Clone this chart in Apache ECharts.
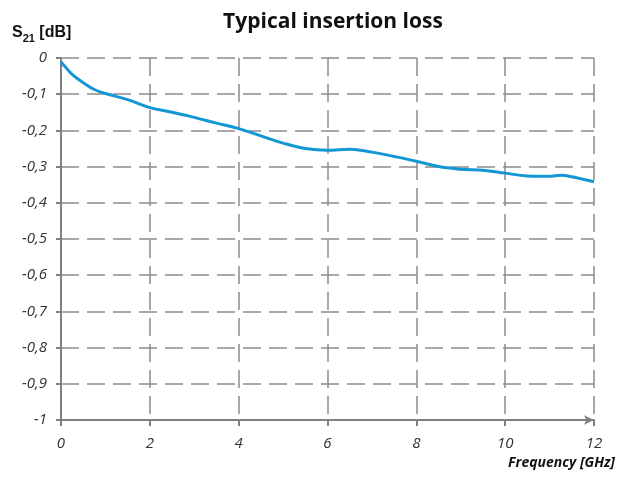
<!DOCTYPE html>
<html>
<head>
<meta charset="utf-8">
<script src="https://cdn.jsdelivr.net/npm/echarts@6/dist/echarts.min.js"></script>
<style>
  html, body { margin: 0; padding: 0; background: #fff; }
  #chart { width: 623px; height: 477px; }
</style>
</head>
<body>
<div id="chart"></div>
<script>
// frequency in GHz
const freq = [0, 0.1, 0.25, 0.5, 0.75, 1, 1.5, 2, 2.5, 3, 3.5, 4, 4.5, 5, 5.5, 6, 6.5, 7, 7.5, 8, 8.5, 9, 9.5, 10, 10.5, 11, 11.25, 11.5, 12]
// S21 in dB
const loss = [-0.011, -0.025, -0.045, -0.068, -0.087, -0.098, -0.115, -0.137, -0.150, -0.164, -0.180, -0.195, -0.215, -0.235, -0.250, -0.255, -0.252, -0.260, -0.272, -0.285, -0.300, -0.307, -0.310, -0.318, -0.326, -0.327, -0.324, -0.328, -0.342]

const xTicks = [0, 2, 4, 6, 8, 10, 12]

const chart = echarts.init(document.getElementById('chart'))

const gridLine = { color: '#8c8c8c', width: 1.5, type: [18, 8] }
const labelStyle = {
  fontFamily: 'Open Sans',
  fontStyle: 'italic',
  fontSize: 15,
  color: '#333'
}

const option = {
  animation: false,
  title: {
    text: 'Typical insertion loss',
    left: 328,
    textAlign: 'center',
    top: 7,
    textStyle: { fontFamily: 'Open Sans', fontWeight: 'bold', fontSize: 21, color: '#111' }
  },
  grid: { left: 61, right: 29, top: 58, bottom: 57 },
  xAxis: {
    type: 'value',
    min: 0,
    max: 12,
    interval: 2,
    axisLine: { onZero: false, lineStyle: { color: '#808080', width: 2 }, symbol: ['none', 'arrow'], symbolSize: [7, 10] },
    axisTick: { show: true, length: 6, inside: false, lineStyle: { color: '#808080', width: 2 } },
    axisLabel: Object.assign({ margin: 16, formatter: v => xTicks.includes(v) ? String(v) : '' }, labelStyle),
    splitLine: { show: true, lineStyle: gridLine }
  },
  yAxis: {
    type: 'value',
    min: -1,
    max: 0,
    interval: 0.1,
    axisLine: { show: true, onZero: false, lineStyle: { color: '#808080', width: 2 } },
    axisTick: { show: true, length: 5, lineStyle: { color: '#808080', width: 2 } },
    axisLabel: Object.assign({
      margin: 14,
      formatter: v => v === 0 ? '0' : (v === -1 ? '-1' : v.toFixed(1).replace('.', ','))
    }, labelStyle),
    splitLine: { show: true, lineStyle: gridLine }
  },
  graphic: [
    {
      type: 'text',
      left: 12,
      top: 25,
      style: {
        text: '{s|S}{sub|21}{s| [dB]}',
        rich: {
          s: { fontFamily: 'Liberation Sans', fontWeight: 'bold', fontSize: 16, lineHeight: 22, fill: '#111', verticalAlign: 'middle' },
          sub: { fontFamily: 'Liberation Sans', fontWeight: 'bold', fontSize: 11, lineHeight: 22, fill: '#111', verticalAlign: 'bottom' }
        }
      }
    },
    {
      type: 'text',
      right: 8,
      top: 456,
      style: {
        text: 'Frequency [GHz]',
        fontFamily: 'Open Sans',
        fontStyle: 'italic',
        fontWeight: 'bold',
        fontSize: 14,
        fill: '#111'
      }
    }
  ],
  series: [
    {
      type: 'line',
      data: freq.map((f, i) => [f, loss[i]]),
      smooth: 0.4,
      showSymbol: false,
      lineStyle: { color: '#1296d4', width: 3 }
    }
  ]
}

chart.setOption(option)
</script>
</body>
</html>
